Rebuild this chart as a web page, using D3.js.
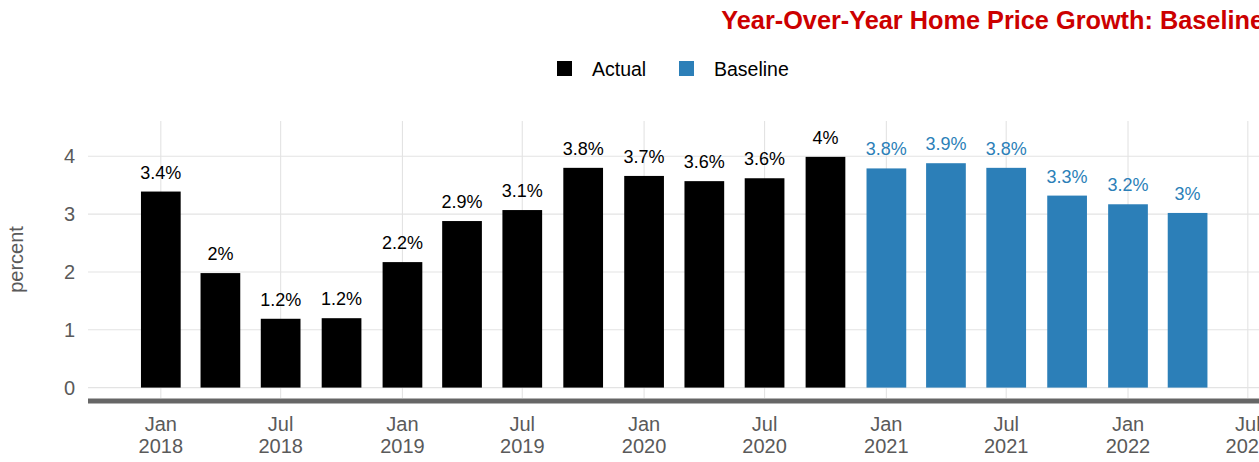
<!DOCTYPE html>
<html>
<head>
<meta charset="utf-8">
<script src="https://cdn.jsdelivr.net/npm/d3@7"></script>
<style>
  body { margin: 0; background: #fff; }
  svg { display: block; font-family: "Liberation Sans", Arial, sans-serif; }
</style>
</head>
<body>
<svg id="chart" width="1259" height="462"></svg>
<script>
// quarterly year-over-year growth, percent
const actualDates = ['2018-01-01', '2018-04-01', '2018-07-01', '2018-10-01',
  '2019-01-01', '2019-04-01', '2019-07-01', '2019-10-01',
  '2020-01-01', '2020-04-01', '2020-07-01', '2020-10-01'];
const actualValues = [3.39, 1.98, 1.19, 1.2, 2.17, 2.88, 3.07, 3.8, 3.66, 3.57, 3.62, 3.99];
const baselineDates = ['2021-01-01', '2021-04-01', '2021-07-01', '2021-10-01', '2022-01-01', '2022-04-01'];
const baselineValues = [3.79, 3.88, 3.8, 3.32, 3.17, 3.02];
const seriesNames = ['Actual', 'Baseline'];
const seriesColors = ['#000000', '#2c7fb8'];
const yTicks = [0, 1, 2, 3, 4];
const title = 'Year-Over-Year Home Price Growth: Baseline';

const parse = d3.utcParse('%Y-%m-%d');
const bars = [
  ...actualDates.map((d, i) => ({date: parse(d), value: actualValues[i], series: 0})),
  ...baselineDates.map((d, i) => ({date: parse(d), value: baselineValues[i], series: 1}))
];

const svg = d3.select('#chart');
const W = 1259;
const plotLeft = 88, plotTop = 121, plotBottom = 398;

const x = d3.scaleUtc()
  .domain([parse('2017-09-13'), parse('2022-10-15')])
  .range([plotLeft, 1318]);
const y = d3.scaleLinear()
  .domain([-0.18, 4.61])
  .range([plotBottom, plotTop]);

const xTicks = x.ticks(d3.utcMonth.every(6)).filter(d => x(d) <= W + 40);

// grid
const grid = svg.append('g');
grid.selectAll('.hgrid')
  .data(yTicks)
  .enter().append('line')
  .attr('x1', plotLeft).attr('x2', W)
  .attr('y1', d => y(d)).attr('y2', d => y(d))
  .attr('stroke', '#e3e3e3').attr('stroke-width', 1.1);
grid.selectAll('.vgrid')
  .data(xTicks)
  .enter().append('line')
  .attr('x1', d => x(d)).attr('x2', d => x(d))
  .attr('y1', plotTop).attr('y2', plotBottom)
  .attr('stroke', '#e3e3e3').attr('stroke-width', 1.1);

// bars
const halfWidth = d => [d3.utcDay.offset(d, -30), d3.utcDay.offset(d, 30)];
svg.append('g').selectAll('rect')
  .data(bars)
  .enter().append('rect')
  .attr('x', d => x(halfWidth(d.date)[0]))
  .attr('width', d => x(halfWidth(d.date)[1]) - x(halfWidth(d.date)[0]))
  .attr('y', d => y(d.value))
  .attr('height', d => y(0) - y(d.value))
  .attr('fill', d => seriesColors[d.series]);

// value labels
svg.append('g').selectAll('text')
  .data(bars)
  .enter().append('text')
  .attr('x', d => x(d.date))
  .attr('y', d => y(d.value) - 13)
  .attr('text-anchor', 'middle')
  .attr('font-size', 18)
  .attr('fill', d => seriesColors[d.series])
  .text(d => `${+d.value.toFixed(1)}%`);

// bottom axis line
svg.append('line')
  .attr('x1', plotLeft).attr('x2', W)
  .attr('y1', 401).attr('y2', 401)
  .attr('stroke', '#666').attr('stroke-width', 5);

// x tick labels
const xl = svg.append('g').selectAll('text')
  .data(xTicks)
  .enter().append('text')
  .attr('x', d => x(d))
  .attr('text-anchor', 'middle')
  .attr('font-size', 20)
  .attr('fill', '#5a5a5a');
xl.append('tspan').attr('x', d => x(d)).attr('y', 431).text(d3.utcFormat('%b'));
xl.append('tspan').attr('x', d => x(d)).attr('y', 453).text(d3.utcFormat('%Y'));

// y tick labels
svg.append('g').selectAll('text')
  .data(yTicks)
  .enter().append('text')
  .attr('x', 75)
  .attr('y', d => y(d))
  .attr('dy', '0.36em')
  .attr('text-anchor', 'end')
  .attr('font-size', 20)
  .attr('fill', '#5a5a5a')
  .text(d => d);

svg.append('text')
  .attr('transform', `translate(23, ${(plotTop + plotBottom) / 2}) rotate(-90)`)
  .attr('text-anchor', 'middle')
  .attr('font-size', 20)
  .attr('fill', '#5a5a5a')
  .text('percent');

// legend
const legendX = [557, 679];
const lg = svg.append('g').selectAll('g')
  .data(seriesNames)
  .enter().append('g')
  .attr('transform', (d, i) => `translate(${legendX[i]}, 61)`);
lg.append('rect')
  .attr('width', 15).attr('height', 15)
  .attr('fill', (d, i) => seriesColors[i]);
lg.append('text')
  .attr('x', 35).attr('y', 15)
  .attr('font-size', 19.5)
  .attr('fill', '#000')
  .text(d => d);

// title (runs off the right edge as in the source)
svg.append('text')
  .attr('x', 1264)
  .attr('y', 29)
  .attr('text-anchor', 'end')
  .attr('font-size', 25.3)
  .attr('font-weight', 'bold')
  .attr('fill', '#cc0000')
  .text(title);
</script>
</body>
</html>
